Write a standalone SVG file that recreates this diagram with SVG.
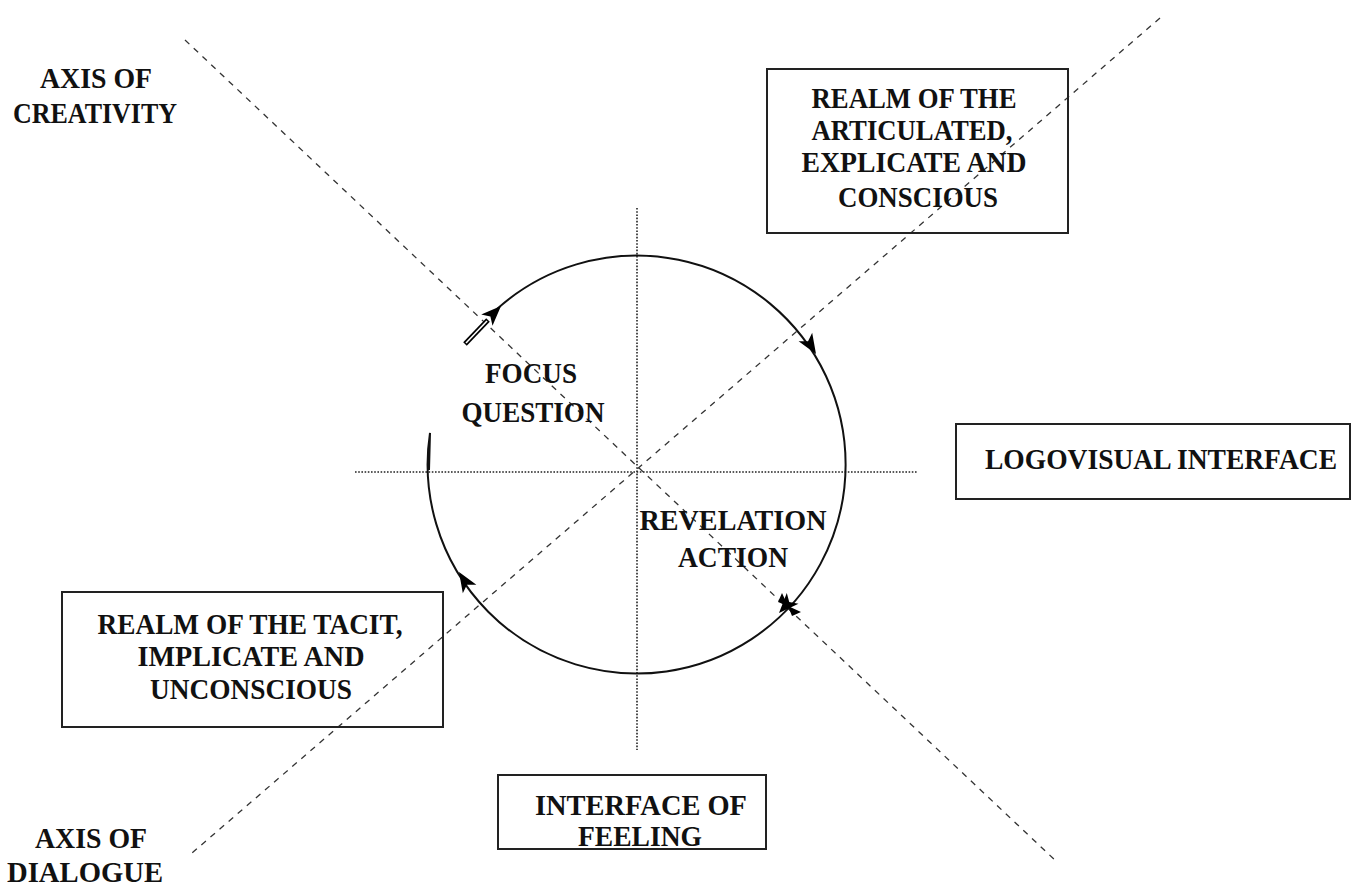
<svg xmlns="http://www.w3.org/2000/svg" width="1361" height="886" viewBox="0 0 1361 886">
<style>
  text { font-family: "Liberation Serif", "Times New Roman", serif; font-weight: bold; font-size: 29px; fill: #111; }
  .box { fill: none; stroke: #222; stroke-width: 2; }
  .axis { fill: none; stroke: #333; stroke-width: 1.3; stroke-dasharray: 6 6; }
  .dot { fill: none; stroke: #222; stroke-width: 1.6; stroke-dasharray: 1.6 1.6; }
  .ring { fill: none; stroke: #111; stroke-width: 2; }
</style>
<defs>
  <path id="head" d="M0,0 L-20,-8 L-15,0 L-20,8 Z" fill="#000"/>
</defs>
<rect width="1361" height="886" fill="#fff"/>

<g id="connectors">
  <line class="axis" x1="185" y1="40" x2="1057" y2="862"/>
  <line class="axis" x1="1160" y1="18" x2="192" y2="853"/>
  <line class="dot" x1="355" y1="472" x2="918" y2="472"/>
  <line class="dot" x1="637" y1="208" x2="637" y2="750"/>
  <path class="ring" d="M 497 309 A 209 209 0 1 1 430 433 L 429 470"/>
  <use href="#head" transform="translate(816,354) rotate(58)"/>
  <use href="#head" transform="translate(779,613) rotate(133)"/>
  <path d="M788,606 l-10,-4 l4,-9 z M788,606 l4,10 l9,-4 z" fill="#000"/>
  <use href="#head" transform="translate(459,572) rotate(238)"/>
  <line x1="465" y1="344" x2="488" y2="320" stroke="#000" stroke-width="5"/>
  <line x1="466" y1="343" x2="487" y2="321" stroke="#fff" stroke-width="1.6"/>
  <use href="#head" transform="translate(501,306) rotate(-45)"/>
</g>

<g id="axis-creativity">
  <text x="96" y="88" text-anchor="middle" textLength="112" lengthAdjust="spacingAndGlyphs">AXIS OF</text>
  <text x="95" y="123" text-anchor="middle" textLength="164" lengthAdjust="spacingAndGlyphs">CREATIVITY</text>
</g>

<g id="axis-dialogue">
  <text x="91" y="848" text-anchor="middle" textLength="112" lengthAdjust="spacingAndGlyphs">AXIS OF</text>
  <text x="85" y="882" text-anchor="middle" textLength="156" lengthAdjust="spacingAndGlyphs">DIALOGUE</text>
</g>

<g id="realm-articulated">
  <rect class="box" x="767" y="69" width="301" height="164"/>
  <text x="914" y="108" text-anchor="middle" textLength="205" lengthAdjust="spacingAndGlyphs">REALM OF THE</text>
  <text x="912" y="140" text-anchor="middle" textLength="201" lengthAdjust="spacingAndGlyphs">ARTICULATED,</text>
  <text x="914" y="172" text-anchor="middle" textLength="225" lengthAdjust="spacingAndGlyphs">EXPLICATE AND</text>
  <text x="918" y="207" text-anchor="middle" textLength="160" lengthAdjust="spacingAndGlyphs">CONSCIOUS</text>
</g>

<g id="logovisual-interface">
  <rect class="box" x="956" y="424" width="394" height="75"/>
  <text x="1161" y="469" text-anchor="middle" textLength="352" lengthAdjust="spacingAndGlyphs">LOGOVISUAL INTERFACE</text>
</g>

<g id="realm-tacit">
  <rect class="box" x="62" y="592" width="381" height="135"/>
  <text x="250" y="634" text-anchor="middle" textLength="305" lengthAdjust="spacingAndGlyphs">REALM OF THE TACIT,</text>
  <text x="251" y="666" text-anchor="middle" textLength="227" lengthAdjust="spacingAndGlyphs">IMPLICATE AND</text>
  <text x="251" y="699" text-anchor="middle" textLength="202" lengthAdjust="spacingAndGlyphs">UNCONSCIOUS</text>
</g>

<g id="interface-feeling">
  <rect class="box" x="498" y="775" width="268" height="74"/>
  <text x="641" y="815" text-anchor="middle" textLength="212" lengthAdjust="spacingAndGlyphs">INTERFACE OF</text>
  <text x="640" y="846" text-anchor="middle" textLength="124" lengthAdjust="spacingAndGlyphs">FEELING</text>
</g>

<g id="focus-question">
  <text x="531" y="383" text-anchor="middle" textLength="92" lengthAdjust="spacingAndGlyphs">FOCUS</text>
  <text x="533" y="422" text-anchor="middle" textLength="143" lengthAdjust="spacingAndGlyphs">QUESTION</text>
</g>

<g id="revelation-action">
  <text x="733" y="530" text-anchor="middle" textLength="187" lengthAdjust="spacingAndGlyphs">REVELATION</text>
  <text x="733" y="567" text-anchor="middle" textLength="110" lengthAdjust="spacingAndGlyphs">ACTION</text>
</g>
</svg>
